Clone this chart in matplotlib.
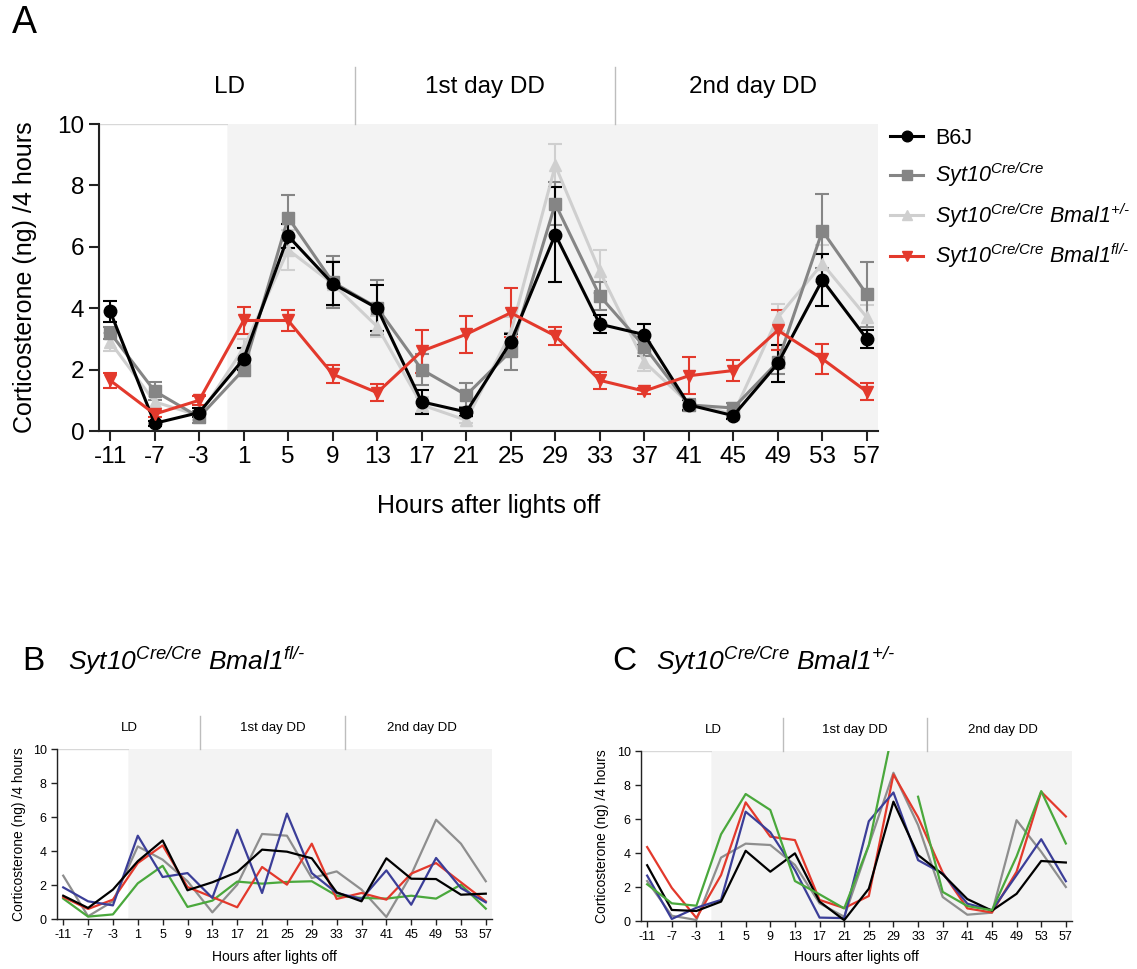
import numpy as np
import matplotlib
matplotlib.use('Agg')
import matplotlib.pyplot as plt
import matplotlib.transforms as mtransforms
from matplotlib.patches import Rectangle

plt.rcParams['font.family'] = ['Liberation Sans', 'DejaVu Sans']
# los nombres de genes van en cursiva, incluidos los digitos
plt.rcParams['mathtext.fontset'] = 'custom'
plt.rcParams['mathtext.rm'] = 'Liberation Sans:italic'
plt.rcParams['mathtext.it'] = 'Liberation Sans:italic'
plt.rcParams['axes.unicode_minus'] = False

# --- datos ---
hours = [-11, -7, -3, 1, 5, 9, 13, 17, 21, 25, 29, 33, 37, 41, 45, 49, 53, 57]
period_labels = ['LD', '1st day DD', '2nd day DD']

# panel A: medias y SEM
b6j = [3.9, 0.25, 0.6, 2.35, 6.35, 4.8, 4.0, 0.95, 0.62, 2.9, 6.4, 3.48, 3.14, 0.85, 0.5, 2.2, 4.92, 3.0]
b6j_sem = [0.35, 0.08, 0.15, 0.35, 0.4, 0.7, 0.75, 0.4, 0.12, 0.25, 1.55, 0.3, 0.35, 0.15, 0.1, 0.6, 0.85, 0.3]
cre = [3.2, 1.3, 0.45, 2.0, 6.95, 4.85, 4.02, 2.0, 1.17, 2.6, 7.4, 4.4, 2.75, 0.85, 0.75, 2.25, 6.52, 4.45]
cre_sem = [0.2, 0.3, 0.2, 0.2, 0.75, 0.85, 0.9, 0.5, 0.4, 0.6, 0.7, 0.45, 0.3, 0.2, 0.15, 0.4, 1.2, 1.05]
het = [2.9, 0.95, 0.5, 2.7, 5.9, 4.8, 3.4, 0.85, 0.35, 3.2, 8.65, 5.2, 2.25, 0.9, 0.55, 3.7, 5.45, 3.7]
het_sem = [0.3, 0.2, 0.15, 0.3, 0.65, 0.75, 0.35, 0.25, 0.1, 0.5, 0.7, 0.7, 0.3, 0.15, 0.1, 0.45, 0.6, 0.4]
flox = [1.65, 0.55, 1.0, 3.6, 3.6, 1.85, 1.25, 2.6, 3.15, 3.85, 3.1, 1.65, 1.3, 1.8, 1.97, 3.28, 2.35, 1.28]
flox_sem = [0.25, 0.1, 0.15, 0.45, 0.35, 0.3, 0.27, 0.7, 0.6, 0.8, 0.3, 0.27, 0.1, 0.6, 0.35, 0.65, 0.5, 0.27]

# panel B: animales individuales Bmal1 fl/-
b_black = [1.37, 0.65, 1.73, 3.4, 4.62, 1.69, 2.16, 2.76, 4.08, 3.96, 3.57, 1.57, 1.04, 3.57, 2.37, 2.35, 1.43, 1.49]
b_blue = [1.86, 1.04, 0.8, 4.9, 2.47, 2.7, 1.24, 5.25, 1.53, 6.2, 2.7, 1.53, 1.18, 2.86, 0.84, 3.59, 1.82, 0.98]
b_red = [1.29, 0.59, 1.14, 3.29, 4.33, 1.88, 1.29, 0.69, 3.06, 2.02, 4.43, 1.18, 1.53, 1.14, 2.67, 3.29, 2.16, 1.04]
b_gray = [2.55, 0.16, 1.04, 4.27, 3.49, 2.22, 0.39, 2.02, 5.0, 4.9, 2.41, 2.8, 1.73, 0.12, 2.61, 5.84, 4.43, 2.22]
b_green = [1.2, 0.14, 0.27, 2.1, 3.13, 0.71, 1.08, 2.2, 2.08, 2.18, 2.22, 1.37, 1.24, 1.2, 1.37, 1.2, 2.02, 0.61]

# panel C: animales individuales Bmal1 +/-
c_black = [3.28, 0.65, 0.59, 1.14, 4.13, 2.9, 3.98, 1.14, 0.05, 1.9, 7.02, 3.88, 2.75, 1.29, 0.61, 1.6, 3.53, 3.44]
c_blue = [2.67, 0.12, 0.78, 1.24, 6.43, 5.22, 3.0, 0.2, 0.17, 5.87, 7.56, 3.58, 2.79, 1.02, 0.63, 2.7, 4.81, 2.34]
c_red = [4.35, 1.95, 0.18, 2.7, 6.98, 4.96, 4.76, 1.24, 0.76, 1.47, 8.62, 6.1, 2.85, 0.74, 0.5, 2.9, 7.6, 6.15]
c_gray = [2.35, 0.31, 0.06, 3.73, 4.55, 4.47, 3.3, 1.04, 0.25, 4.46, 8.72, 5.64, 1.41, 0.37, 0.49, 5.93, 4.07, 2.0]
c_green = [2.16, 1.04, 0.9, 5.1, 7.47, 6.53, 2.35, 1.57, 0.74, 4.46, 11.4, 7.31, 1.71, 0.88, 0.63, 3.8, 7.64, 4.56]

lab_cre = r'$Syt10^{Cre/Cre}$'
lab_het = r'$Syt10^{Cre/Cre}\ Bmal1^{\text{+/-}}$'
lab_flox = r'$Syt10^{Cre/Cre}\ Bmal1^{\text{fl/-}}$'

W, H = 1137, 969


def box(l, t, r, b):
    return [l / W, 1 - b / H, (r - l) / W, (b - t) / H]


def preparar_ejes(ax, fs_tick, fs_lab, fs_head, lw, head_top, head_y, ylab_x, xlab_y, ticklen):
    ax.set_xlim(-12, 58)
    ax.set_ylim(0, 10)
    # fondo: LD blanco, resto gris claro
    ax.add_patch(Rectangle((-12, 0), 11.6, 10, facecolor='white', edgecolor='#d8d8d8', lw=1, zorder=0))
    ax.add_patch(Rectangle((-0.4, 0), 58.4, 10, facecolor='#f3f3f3', edgecolor='none', zorder=0))
    for s in ('top', 'right'):
        ax.spines[s].set_visible(False)
    for s in ('left', 'bottom'):
        ax.spines[s].set_linewidth(lw)
        ax.spines[s].set_color('#222222')
    ax.set_xticks(hours)
    ax.set_xticklabels([str(h) for h in hours])
    ax.set_yticks([0, 2, 4, 6, 8, 10])
    ax.tick_params(labelsize=fs_tick, width=lw, length=ticklen, color='#222222')
    ax.set_ylabel('Corticosterone (ng) /4 hours', fontsize=fs_lab)
    ax.set_xlabel('Hours after lights off', fontsize=fs_lab)
    ax.yaxis.set_label_coords(ylab_x, 0.5)
    ax.xaxis.set_label_coords(0.5, xlab_y)
    # cabecera de periodos
    tr = mtransforms.blended_transform_factory(ax.transData, ax.transAxes)
    for x in (11, 34.4):
        ax.plot([x, x], [1.0, head_top], transform=tr, color='#bdbdbd', lw=1, clip_on=False)
    for x, s in zip((-0.3, 22.7, 46.8), period_labels):
        ax.text(x, head_y, s, transform=tr, ha='center', va='center', fontsize=fs_head)


fig = plt.figure(figsize=(W / 100, H / 100), dpi=100)

# ---------- panel A ----------
axA = fig.add_axes(box(99, 124, 878, 431))
preparar_ejes(axA, 17.5, 18, 17.5, 1.5, 1.186, 1.12, -0.079, -0.205, 7)

series = [
    (het, het_sem, '#cfcfcf', '^', lab_het, 9),
    (cre, cre_sem, '#858585', 's', lab_cre, 8),
    (b6j, b6j_sem, 'black', 'o', 'B6J', 9),
    (flox, flox_sem, '#e3392c', 'v', lab_flox, 9),
]
handles = {}
for vals, sem, col, mk, lab, ms in series:
    cont = axA.errorbar(hours, vals, yerr=sem, color=col, marker=mk, markersize=ms, lw=2.2,
                        elinewidth=1.5, capsize=5, capthick=1.5, clip_on=False, label=lab)
    for art in cont.lines[1] + cont.lines[2]:
        art.set_clip_on(False)
    handles[lab] = cont[0]

orden = ['B6J', lab_cre, lab_het, lab_flox]
fig.legend([handles[k] for k in orden], orden, loc='upper left', bbox_to_anchor=(890 / W, 1 - 128 / H),
           frameon=False, fontsize=15.5, handlelength=1.55, handletextpad=0.55, labelspacing=0.55,
           borderaxespad=0, borderpad=0, markerscale=0.85)

fig.text(12 / W, 1 - 23 / H, 'A', fontsize=27, va='center', ha='left')

# ---------- paneles B y C ----------
colores = {'gray': '#8e8e8e', 'green': '#4aa83c', 'red': '#e3392c', 'blue': '#3b3e98', 'black': 'black'}

axB = fig.add_axes(box(57, 749, 492, 919))
preparar_ejes(axB, 9, 10, 9.5, 1.0, 1.194, 1.124, -0.072, -0.18, 4)
for datos, c in ((b_gray, 'gray'), (b_green, 'green'), (b_red, 'red'), (b_blue, 'blue'), (b_black, 'black')):
    axB.plot(hours, datos, color=colores[c], lw=1.6, clip_on=False)

axC = fig.add_axes(box(641, 751, 1072, 921))
preparar_ejes(axC, 9, 10, 9.5, 1.0, 1.194, 1.124, -0.075, -0.17, 4)
for datos, c in ((c_gray, 'gray'), (c_red, 'red'), (c_blue, 'blue'), (c_black, 'black')):
    axC.plot(hours, datos, color=colores[c], lw=1.6, clip_on=False)
# la serie verde sale del rango en 29 h: se dibuja en dos tramos
corte = hours.index(29) + 1
axC.plot(hours[:corte], c_green[:corte], color=colores['green'], lw=1.6)
axC.plot(hours[corte:], c_green[corte:], color=colores['green'], lw=1.6, clip_on=False)

fig.text(22 / W, 1 - 661 / H, 'B', fontsize=24, va='center', ha='left')
fig.text(68 / W, 1 - 661 / H, lab_flox, fontsize=19, va='center', ha='left')
fig.text(612 / W, 1 - 661 / H, 'C', fontsize=24, va='center', ha='left')
fig.text(656 / W, 1 - 661 / H, lab_het, fontsize=19, va='center', ha='left')

fig.savefig('out.png', dpi=100, facecolor='white')
